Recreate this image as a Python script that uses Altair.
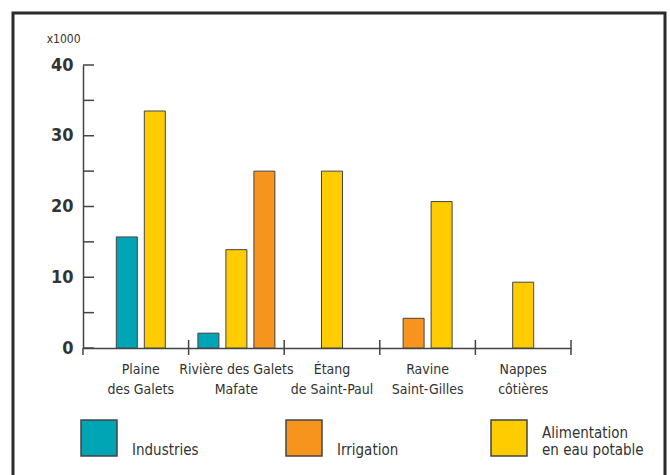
import altair as alt
import pandas as pd

# ---- data (values in thousands) ----
categories = ["Plaine|des Galets", "Rivière des Galets|Mafate", "Étang|de Saint-Paul",
              "Ravine|Saint-Gilles", "Nappes|côtières"]
series = ["Industries", "Irrigation", "Alimentation|en eau potable"]
colors = ["#00A5B5", "#F7941E", "#FFCC00"]

bar_category = [categories[0], categories[0],
                categories[1], categories[1], categories[1],
                categories[2],
                categories[3], categories[3],
                categories[4]]
bar_series = [series[0], series[2],
              series[0], series[2], series[1],
              series[2],
              series[1], series[2],
              series[2]]
bar_value = [15.7, 33.5,
             2.1, 13.9, 25.0,
             25.0,
             4.2, 20.7,
             9.3]
y_ticks = [0, 5, 10, 15, 20, 25, 30, 35, 40]
y_labels = [0, 10, 20, 30, 40]

FONT = "'DejaVu Sans Condensed', Roboto, sans-serif"
INK = "#333333"
W, H = 488, 283

bars = pd.DataFrame({"category": bar_category, "series": bar_series, "value": bar_value})
# slot index: bars of a group are centred on the group
bars["i"] = bars.groupby("category").cumcount()
bars["n"] = bars.groupby("category")["category"].transform("count")
bars["slot"] = (2 - (bars["n"] - 1) + 2 * bars["i"]).astype(str)
slots = ["0", "1", "2", "3", "4"]

xscale = alt.Scale(domain=categories, paddingInner=0, paddingOuter=0.0523, align=1)
yscale = alt.Scale(domain=[0, 40], nice=False)

bar_layer = alt.Chart(bars).mark_bar(width=21, stroke="#444444", strokeWidth=1).encode(
    x=alt.X("category:N", scale=xscale, sort=categories, title=None,
            axis=alt.Axis(labelExpr="split(datum.label, '|')", labelAngle=0, ticks=False,
                          tickSize=0, labelPadding=14, labelFontSize=14, labelLineHeight=20,
                          labelColor=INK, labelFont=FONT, domainColor="#444444",
                          domainWidth=1.5, labelLimit=200)),
    xOffset=alt.XOffset("slot:N", scale=alt.Scale(domain=slots, paddingInner=0, paddingOuter=0.914)),
    y=alt.Y("value:Q", scale=yscale,
            axis=alt.Axis(values=y_labels, ticks=False, tickSize=0, grid=False, labelPadding=10,
                          labelFontSize=18, labelFontWeight="bold", labelFont=FONT,
                          labelColor=INK, domainColor="#444444", domainWidth=1.5,
                          title="x1000", titleAngle=0, titleAlign="right", titleBaseline="middle",
                          titleX=-3, titleY=-27, titleFontSize=12, titleFontWeight="normal",
                          titleFont=FONT, titleColor=INK)),
    color=alt.Color("series:N", scale=alt.Scale(domain=series, range=colors),
                    legend=alt.Legend(title=None, orient="none", legendX=-3, legendY=354,
                                      direction="horizontal", symbolType="square",
                                      symbolSize=1296, symbolStrokeColor="#444444",
                                      symbolStrokeWidth=1.5, symbolOpacity=1,
                                      labelExpr="indexof(datum.label, '|') >= 0 ? split(datum.label, '|') : ['', datum.label]",
                                      labelFontSize=15, labelFont=FONT, labelBaseline="alphabetic",
                                      labelColor=INK, labelOffset=14, columnPadding=49,
                                      gridAlign="all", labelLimit=200)),
)

ytick_layer = alt.Chart(pd.DataFrame({"t": y_ticks})).mark_rule(color="#444444", strokeWidth=1.5).encode(
    y=alt.Y("t:Q", scale=yscale), x=alt.value(0), x2=alt.value(11))

yext_layer = alt.Chart(pd.DataFrame({"t": [0]})).mark_rule(color="#444444", strokeWidth=1.5).encode(
    x=alt.value(0), y=alt.value(H), y2=alt.value(H + 7))

xtick_layer = alt.Chart(pd.DataFrame({"category": categories})).mark_rule(
    color="#444444", strokeWidth=1.5).encode(
    x=alt.X("category:N", scale=xscale, sort=categories, bandPosition=1),
    y=alt.value(H - 8), y2=alt.value(H + 7))

frame_layer = alt.Chart(pd.DataFrame({"f": [0]})).mark_rect(
    fillOpacity=0, stroke="#2b2b2b", strokeWidth=3).encode(
    x=alt.value(-70), x2=alt.value(582), y=alt.value(-52), y2=alt.value(420))

chart = alt.layer(frame_layer, bar_layer, ytick_layer, yext_layer, xtick_layer).properties(
    width=W, height=H,
    autosize=alt.AutoSizeParams(type="none"),
    padding={"left": 83, "top": 65, "right": 670 - 83 - W, "bottom": 475 - 65 - H},
    background="white",
).configure(font=FONT).configure_view(strokeWidth=0, stroke="transparent")

chart.save("out.html", embed_options={"renderer": "svg", "actions": False})
